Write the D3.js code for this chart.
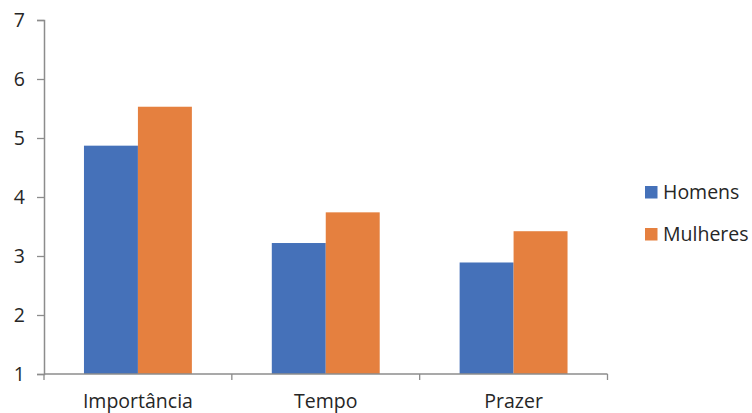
<!DOCTYPE html>
<html><head><meta charset="utf-8">
<script src="https://cdn.jsdelivr.net/npm/d3@7"></script>
<style>body{margin:0;background:#fff}svg{display:block}</style>
</head><body>
<script>
const categories = ["Importância", "Tempo", "Prazer"];
const seriesNames = ["Homens", "Mulheres"];
const homens = [4.87, 3.22, 2.89];
const mulheres = [5.53, 3.74, 3.42];
const yTicks = [1, 2, 3, 4, 5, 6, 7];
const colors = ["#4571B9", "#E5803F"];

const W = 752, H = 413;
const svg = d3.select("body").append("svg").attr("width", W).attr("height", H);
const font = "'Open Sans', sans-serif";
const fs = 19.5;
const textColor = "#262626";
const x0 = d3.scaleBand().domain(categories).range([44, 607.5]).paddingInner(0.4255).paddingOuter(0.2128);
const x1 = d3.scaleBand().domain(seriesNames).range([0, x0.bandwidth()]);
const y = d3.scaleLinear().domain([1, 7]).range([374, 20]);
const data = categories.map((c, i) => ({cat: c, vals: [homens[i], mulheres[i]]}));

svg.append("g").selectAll("g").data(data).join("g")
  .attr("transform", d => `translate(${x0(d.cat)},0)`)
  .selectAll("rect").data(d => d.vals.map((v, j) => ({v, j})))
  .join("rect")
  .attr("x", d => x1(seriesNames[d.j]))
  .attr("width", x1.bandwidth())
  .attr("y", d => y(d.v))
  .attr("height", d => y(1) - y(d.v))
  .attr("fill", d => colors[d.j]);

const axisColor = "#8C8C8C";
const yAxis = svg.append("g").attr("transform", "translate(44,0)")
  .call(d3.axisLeft(y).tickValues(yTicks).tickSize(7).tickPadding(12).tickFormat(d3.format("d")));
yAxis.select(".domain").attr("stroke", axisColor).attr("stroke-width", 1.5);
yAxis.selectAll(".tick line").attr("stroke", axisColor).attr("stroke-width", 1.3);
yAxis.selectAll("text").attr("font-family", font).attr("font-size", fs).attr("fill", textColor);

// x axis
const xEdges = [0, 1, 2, 3].map(i => 44 + (607.5 - 44) / 3 * i);
svg.append("line").attr("x1", 44).attr("x2", 607.5).attr("y1", y(1)).attr("y2", y(1))
  .attr("stroke", axisColor).attr("stroke-width", 1.5);
svg.append("g").selectAll("line").data(xEdges).join("line")
  .attr("x1", d => d).attr("x2", d => d).attr("y1", y(1)).attr("y2", y(1) + 6)
  .attr("stroke", axisColor).attr("stroke-width", 1.3);
svg.append("g").selectAll("text").data(categories).join("text")
  .attr("x", d => x0(d) + x0.bandwidth() / 2).attr("y", 407.5)
  .attr("text-anchor", "middle").attr("font-family", font).attr("font-size", fs).attr("fill", textColor)
  .text(d => d);

// legend
const lg = svg.append("g").selectAll("g").data(seriesNames).join("g")
  .attr("transform", (d, i) => `translate(645,${186 + i * 42})`);
lg.append("rect").attr("width", 12.5).attr("height", 12.5).attr("fill", (d, i) => colors[i]);
lg.append("text").attr("x", 18).attr("y", 13).attr("font-family", font).attr("font-size", fs).attr("fill", textColor).text(d => d);
</script>
</body></html>
